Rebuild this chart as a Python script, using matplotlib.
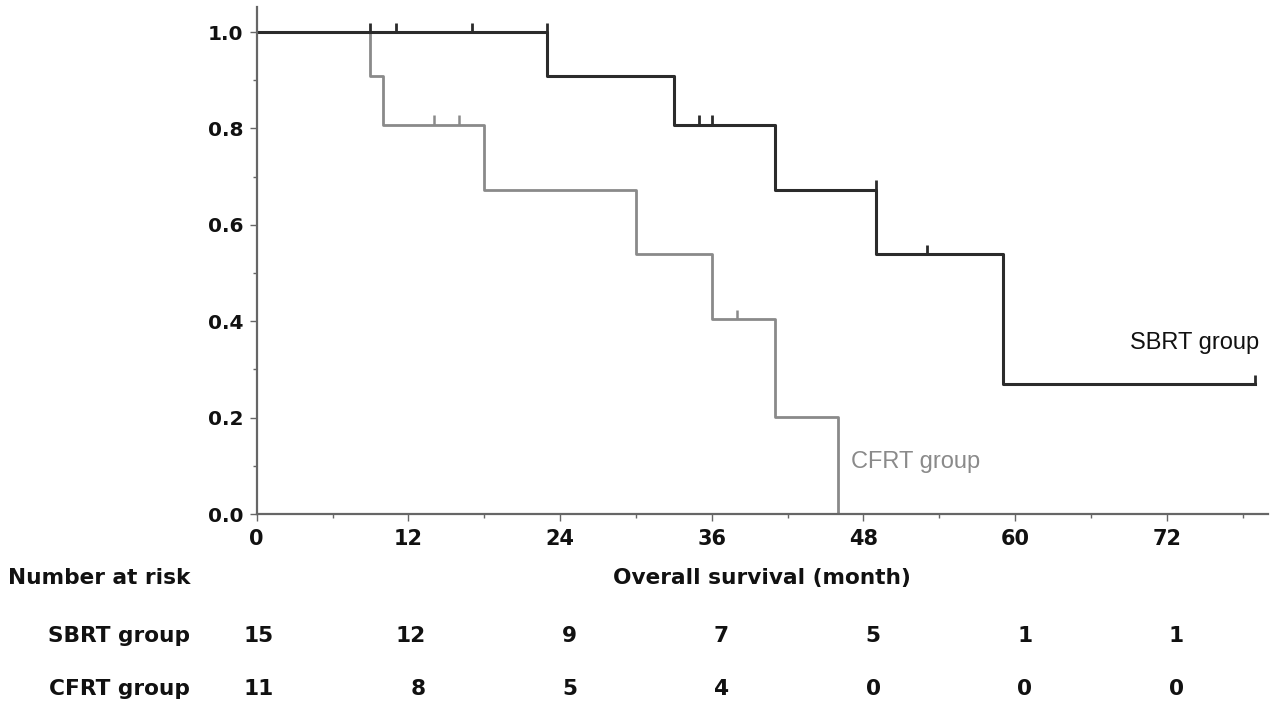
import matplotlib
matplotlib.use("Agg")
import matplotlib.pyplot as plt
import matplotlib.transforms as mtransforms
from matplotlib.ticker import MultipleLocator

# Kaplan-Meier steps
sbrt_times = [0, 23, 33, 41, 49, 59, 79]
sbrt_surv = [1.0, 0.909, 0.808, 0.673, 0.539, 0.269, 0.269]
sbrt_cens_t = [9, 11, 17, 23, 35, 36, 49, 53, 79]
sbrt_cens_s = [1.0, 1.0, 1.0, 1.0, 0.808, 0.808, 0.673, 0.539, 0.269]

cfrt_times = [0, 9, 10, 18, 30, 36, 41, 46]
cfrt_surv = [1.0, 0.909, 0.808, 0.673, 0.539, 0.404, 0.202, 0.0]
cfrt_cens_t = [14, 16, 38]
cfrt_cens_s = [0.808, 0.808, 0.404]

risk_times = [0, 12, 24, 36, 48, 60, 72]
sbrt_risk = [15, 12, 9, 7, 5, 1, 1]
cfrt_risk = [11, 8, 5, 4, 0, 0, 0]

dark = "#2b2b2b"
grey = "#8a8a8a"
spine_c = "#666666"
txt = "#111111"

W, H = 1271, 707
fig = plt.figure(figsize=(W / 100, H / 100), dpi=100)
ax = fig.add_axes([256.7 / W, 1 - 514 / H, (1268 - 256.7) / W, (514 - 7) / H])

ax.step(cfrt_times, cfrt_surv, where="post", color=grey, lw=2.0)
ax.vlines(cfrt_cens_t, cfrt_cens_s, [s + 0.019 for s in cfrt_cens_s], color=grey, lw=1.8)
ax.step(sbrt_times, sbrt_surv, where="post", color=dark, lw=2.2)
ax.vlines(sbrt_cens_t, sbrt_cens_s, [s + 0.019 for s in sbrt_cens_s], color=dark, lw=2.0)

ax.set_xlim(0, 80)
ax.set_ylim(0, 1.052)
ax.xaxis.set_minor_locator(MultipleLocator(6))
ax.yaxis.set_minor_locator(MultipleLocator(0.1))
ax.set_yticks([0, 0.2, 0.4, 0.6, 0.8, 1.0])
ax.set_yticklabels(["0.0", "0.2", "0.4", "0.6", "0.8", "1.0"])
ax.set_xticks(risk_times)

for s in ["top", "right"]:
    ax.spines[s].set_visible(False)
for s in ["left", "bottom"]:
    ax.spines[s].set_color(spine_c)
    ax.spines[s].set_linewidth(1.6)
ax.tick_params(which="major", direction="out", length=5, width=1, color=spine_c)
ax.tick_params(axis="x", which="major", labelsize=15, pad=6)
ax.tick_params(axis="y", which="major", labelsize=14.5, pad=4.5)
ax.tick_params(which="minor", direction="out", length=3, width=1, color=spine_c)
for lab in ax.get_xticklabels() + ax.get_yticklabels():
    lab.set_fontweight("bold")
    lab.set_color(txt)

ax.text(79.3, 0.355, "SBRT group", ha="right", va="center", fontsize=17,
        family="Liberation Sans", color=txt)
ax.text(47.0, 0.108, "CFRT group", ha="left", va="center", fontsize=17,
        family="Liberation Sans", color=grey)

# axis title and number-at-risk table
fs = 15.6
fig.text(762 / W, 1 - 578 / H, "Overall survival (month)", ha="center", va="center",
         fontsize=fs, fontweight="bold", color=txt)
fig.text(8 / W, 1 - 578 / H, "Number at risk", ha="left", va="center",
         fontsize=fs, fontweight="bold", color=txt)
fig.text(190 / W, 1 - 636 / H, "SBRT group", ha="right", va="center",
         fontsize=fs, fontweight="bold", color=txt)
fig.text(190 / W, 1 - 689 / H, "CFRT group", ha="right", va="center",
         fontsize=fs, fontweight="bold", color=txt)

trans = mtransforms.blended_transform_factory(ax.transData, fig.transFigure)
for t, a, b in zip(risk_times, sbrt_risk, cfrt_risk):
    ax.text(t + 1.35, 1 - 636 / H, str(a), transform=trans, ha="right", va="center",
            fontsize=fs, fontweight="bold", color=txt, clip_on=False)
    ax.text(t + 1.35, 1 - 689 / H, str(b), transform=trans, ha="right", va="center",
            fontsize=fs, fontweight="bold", color=txt, clip_on=False)

fig.savefig("out.png", dpi=100)
